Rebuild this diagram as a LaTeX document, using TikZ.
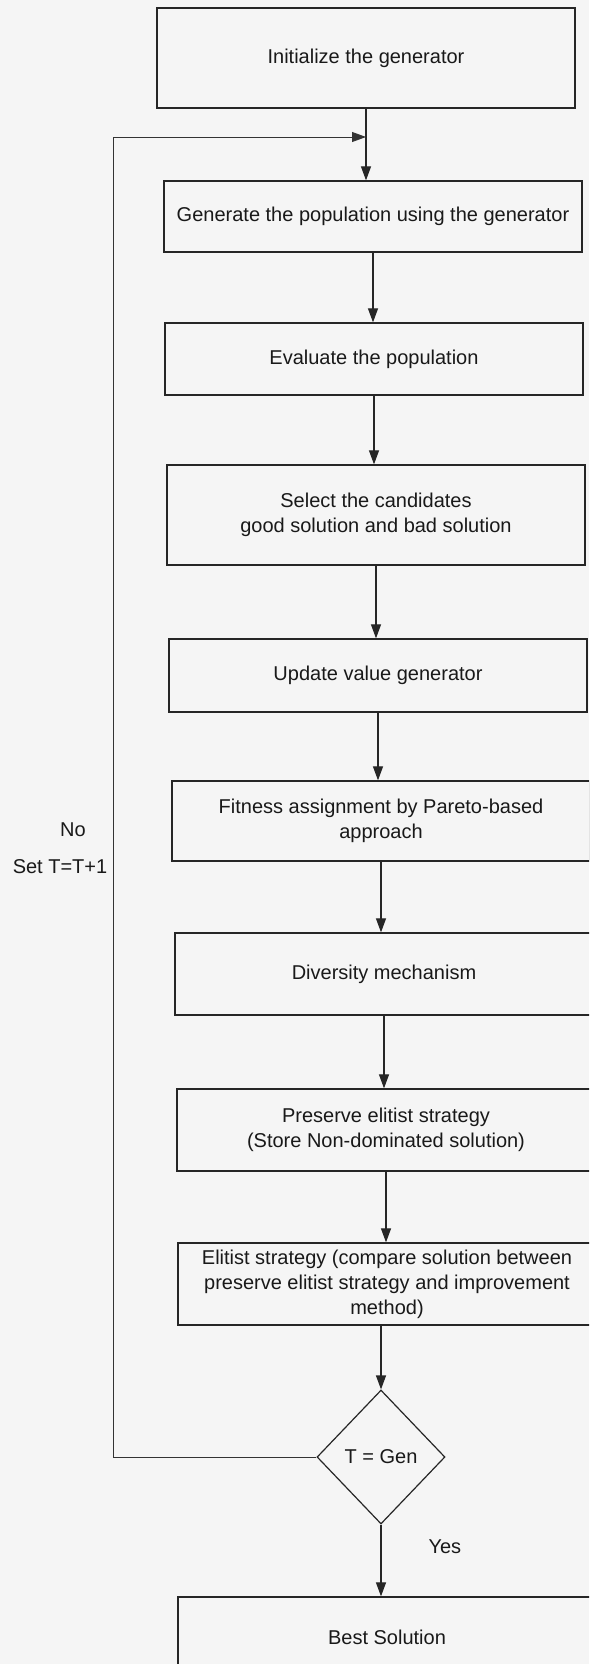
\documentclass[tikz,border=0pt]{standalone}
\usepackage{fontspec}
\setmainfont{Liberation Sans}
\usetikzlibrary{shapes.geometric,arrows.meta}
\begin{document}
\begin{tikzpicture}[x=1pt,y=-1pt,
  every node/.style={font=\fontsize{20}{25}\selectfont, text=black!90},
  stepbox/.style={draw=black!85, line width=1.3pt, fill=none, inner sep=0pt,
                  minimum width=418pt, align=center},
  decision/.style={draw=black!85, line width=1.2pt, diamond, inner sep=0pt,
                   minimum width=128pt, minimum height=134pt},
  flow/.style={draw=black!85, line width=1.2pt, -{Triangle[length=14pt,width=10pt]}},
  back/.style={draw=black!80, line width=0.8pt, -{Triangle[length=14pt,width=10pt]}}
]
% canvas
\fill[black!4] (0,0) rectangle (589,1664);
\useasboundingbox (0,0) rectangle (589,1664);
\begin{scope}
\clip (0,0) rectangle (589,1664);

% process steps
\node[stepbox, minimum height=100pt] (init) at (366,58) {Initialize the generator};
\node[stepbox, minimum height=71pt]  (gen)  at (373,216.5) {Generate the population using the generator};
\node[stepbox, minimum height=72pt]  (eval) at (374,359) {Evaluate the population};
\node[stepbox, minimum height=100pt] (sel)  at (376,515) {Select the candidates\\good solution and bad solution};
\node[stepbox, minimum height=73pt]  (upd)  at (378,675.5) {Update value generator};
\node[stepbox, minimum height=80pt]  (fit)  at (381,821) {Fitness assignment by Pareto-based\\approach};
\node[stepbox, minimum height=82pt]  (div)  at (384,974) {Diversity mechanism};
\node[stepbox, minimum height=82pt]  (pres) at (386,1130) {Preserve elitist strategy\\(Store Non-dominated solution)};
\node[stepbox, minimum height=82pt]  (elit) at (387,1284) {Elitist strategy (compare solution between\\preserve elitist strategy and improvement\\method)};
\node[decision] (dec) at (381,1457) {T = Gen};
\node[stepbox, minimum height=80pt]  (best) at (387,1637) {Best Solution};

% main flow
\coordinate (merge) at (366,137);
\draw[flow] (init.south) -- (init.south |- gen.north);
\draw[flow] (gen.south)  -- (gen.south |- eval.north);
\draw[flow] (eval.south) -- (eval.south |- sel.north);
\draw[flow] (sel.south)  -- (sel.south |- upd.north);
\draw[flow] (upd.south)  -- (upd.south |- fit.north);
\draw[flow] (fit.south)  -- (fit.south |- div.north);
\draw[flow] (div.south)  -- (div.south |- pres.north);
\draw[flow] (pres.south) -- (pres.south |- elit.north);
\draw[flow] (dec.north |- elit.south) -- (dec.north);
\draw[flow] (dec.south) -- (dec.south |- best.north);

% loop back when T is not Gen
\coordinate (bend) at (113,137);
\draw[back] (dec.west) -| (bend) -- (merge);

% labels
\node (no)  at (73,830) {No};
\node (inc) at (60,867) {Set T=T+1};
\node[anchor=west] (yes) at (425,1547) {Yes};
\end{scope}
\end{tikzpicture}
\end{document}
